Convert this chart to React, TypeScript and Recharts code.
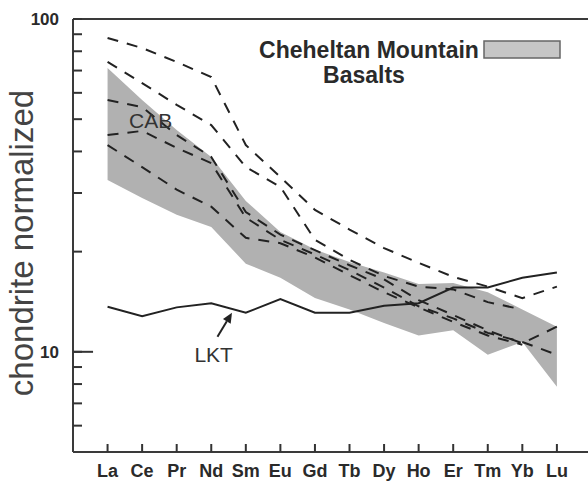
import React from 'react';
import { ComposedChart, Area, Line, XAxis, YAxis, ReferenceLine, ReferenceDot } from 'recharts';

const elements = ['La', 'Ce', 'Pr', 'Nd', 'Sm', 'Eu', 'Gd', 'Tb', 'Dy', 'Ho', 'Er', 'Tm', 'Yb', 'Lu'];
const elementIndex = [1, 2, 3, 4, 5, 6, 7, 8, 9, 10, 11, 12, 13, 14];

// Cheheltan Mountain Basalts field (grey band)
const fieldLow = [32.8, 29.0, 25.8, 23.7, 18.4, 16.7, 14.5, 13.4, 12.2, 11.2, 11.6, 9.8, 10.7, 7.85];
const fieldHigh = [71.3, 57.1, 46.4, 38.5, 28.4, 22.9, 20.3, 18.6, 17.3, 16.0, 16.1, 15.1, 13.4, 11.9];

// LKT (solid)
const lkt = [13.65, 12.8, 13.6, 14.0, 13.1, 14.4, 13.1, 13.1, 13.75, 14.0, 15.6, 15.6, 16.7, 17.3];

// CAB (dashed)
const cabA = [87.7, 81.8, 74.3, 66.9, 41.8, 33.5, 26.7, 23.3, 20.5, 18.5, 16.8, 15.7, 14.5, 15.7];
const cabB = [74.3, 64.2, 55.2, 48.0, 35.9, 31.3, 21.7, 18.9, 16.9, 15.7, 15.4, 14.1, 13.4, null];
const cabC = [57.1, 54.4, 44.8, 38.5, 26.3, 22.5, 20.2, 18.2, 16.5, 14.3, 12.9, 11.6, 10.6, 11.9];
const cabD = [44.8, 46.1, 41.0, 36.9, 25.3, 21.7, 19.6, 17.6, 15.6, 13.7, 12.6, 11.4, 10.7, 9.8];
const cabE = [41.8, 35.9, 30.7, 27.3, 22.0, 21.2, 19.2, 17.0, 15.1, 13.6, 12.3, 11.2, 10.5, null];

const yTicks = [6, 7, 8, 9, 10, 20, 30, 40, 50, 60, 70, 80, 90, 100];
const yLabelled = [10, 100];

const data = elements.map((el, i) => ({
  idx: elementIndex[i],
  el,
  field: [fieldLow[i], fieldHigh[i]],
  lkt: lkt[i],
  a: cabA[i],
  b: cabB[i],
  c: cabC[i],
  d: cabD[i],
  e: cabE[i],
}));

const FONT = '"Liberation Sans", Arial, Helvetica, sans-serif';

const Arrow = (props: any) => {
  const { x1, y1, x2, y2 } = props;
  const dx = x2 - x1;
  const dy = y2 - y1;
  const len = Math.sqrt(dx * dx + dy * dy) || 1;
  const ux = dx / len;
  const uy = dy / len;
  const hl = 10;
  const hw = 4.5;
  const bx = x2 - ux * hl;
  const by = y2 - uy * hl;
  const px = -uy;
  const py = ux;
  return (
    <g>
      <line x1={x1} y1={y1} x2={bx} y2={by} stroke="#222" strokeWidth={2} />
      <polygon points={`${x2},${y2} ${bx + px * hw},${by + py * hw} ${bx - px * hw},${by - py * hw}`} fill="#222" />
    </g>
  );
};

const renderXTick = (props: any) => {
  const { x, y, payload } = props;
  return (
    <g>
      <path d={`M${x},${y} L${x},${y - 8}`} stroke="#333333" strokeWidth={2} />
      <text x={x} y={y + 25} textAnchor="middle" fontFamily={FONT} fontWeight="bold" fontSize={18} fill="#2a2a2a">
        {elements[payload.value - 1] ?? ''}
      </text>
    </g>
  );
};

const dash = '11 9';

export default function App() {
  return (
    <div style={{ position: 'absolute', left: 0, top: 0, width: 588, height: 481, overflow: 'hidden', background: '#fff' }}>
      <ComposedChart width={588} height={481} data={data} margin={{ top: 19, right: 0, bottom: 0, left: 0 }}>
        <XAxis
          dataKey="idx"
          type="number"
          domain={[0, 14.9]}
          ticks={elementIndex}
          interval={0}
          allowDataOverflow
          height={29}
          tickSize={0}
          tickMargin={0}
          tickLine={false}
          tick={renderXTick}
          axisLine={{ stroke: '#3a3a3a', strokeWidth: 2 }}
        />
        <YAxis
          type="number"
          scale="log"
          domain={[5, 100]}
          ticks={yTicks}
          interval={0}
          allowDataOverflow
          width={73}
          tickSize={-9}
          tickMargin={23}
          tickLine={{ stroke: '#333333', strokeWidth: 2 }}
          tickFormatter={(v: number) => (yLabelled.includes(v) ? String(v) : '')}
          tick={{ fontSize: 17, fontWeight: 'bold', fill: '#2a2a2a', fontFamily: FONT }}
          axisLine={{ stroke: '#3a3a3a', strokeWidth: 2 }}
        />
        <ReferenceLine y={100} stroke="#3a3a3a" strokeWidth={2} />
        <ReferenceLine segment={[{ x: 0, y: 10 }, { x: 0.58, y: 10 }]} stroke="#333333" strokeWidth={2} ifOverflow="visible" />
        <Area dataKey="field" type="linear" fill="#b1b1b1" fillOpacity={1} stroke="none" isAnimationActive={false} dot={false} activeDot={false} />
        <Line dataKey="lkt" type="linear" stroke="#222" strokeWidth={2} dot={false} activeDot={false} isAnimationActive={false} />
        <Line dataKey="a" type="linear" stroke="#222" strokeWidth={2} strokeDasharray={dash} dot={false} activeDot={false} isAnimationActive={false} />
        <Line dataKey="b" type="linear" stroke="#222" strokeWidth={2} strokeDasharray={dash} dot={false} activeDot={false} isAnimationActive={false} />
        <Line dataKey="c" type="linear" stroke="#222" strokeWidth={2} strokeDasharray={dash} dot={false} activeDot={false} isAnimationActive={false} />
        <Line dataKey="d" type="linear" stroke="#222" strokeWidth={2} strokeDasharray={dash} dot={false} activeDot={false} isAnimationActive={false} />
        <Line dataKey="e" type="linear" stroke="#222" strokeWidth={2} strokeDasharray={dash} dot={false} activeDot={false} isAnimationActive={false} />
        <ReferenceLine segment={[{ x: 4.18, y: 11.1 }, { x: 4.6, y: 13.1 }]} ifOverflow="visible" shape={<Arrow />} />
        <ReferenceDot x={2.245} y={49.4} r={0} fill="none" stroke="none" label={{ value: 'CAB', position: 'center', fontSize: 21, fill: '#333', fontFamily: FONT }} />
        <ReferenceDot x={4.07} y={9.8} r={0} fill="none" stroke="none" label={{ value: 'LKT', position: 'center', fontSize: 21, fill: '#333', fontFamily: FONT }} />
      </ComposedChart>
      <svg width={588} height={481} style={{ position: 'absolute', left: 0, top: 0, pointerEvents: 'none' }}>
        <text x={0} y={0} transform="translate(33 243) rotate(-90)" textAnchor="middle" fontFamily={FONT} fontSize={33} fill="#444">
          chondrite normalized
        </text>
        <text x={369} y={58} textAnchor="middle" fontFamily={FONT} fontWeight="bold" fontSize={23} fill="#2a2a2a">
          Cheheltan Mountain
        </text>
        <text x={364} y={83} textAnchor="middle" fontFamily={FONT} fontWeight="bold" fontSize={23} fill="#2a2a2a">
          Basalts
        </text>
        <rect x={484} y={41} width={76} height={17} fill="#c6c6c6" stroke="#666" strokeWidth={1.5} />
      </svg>
    </div>
  );
}
